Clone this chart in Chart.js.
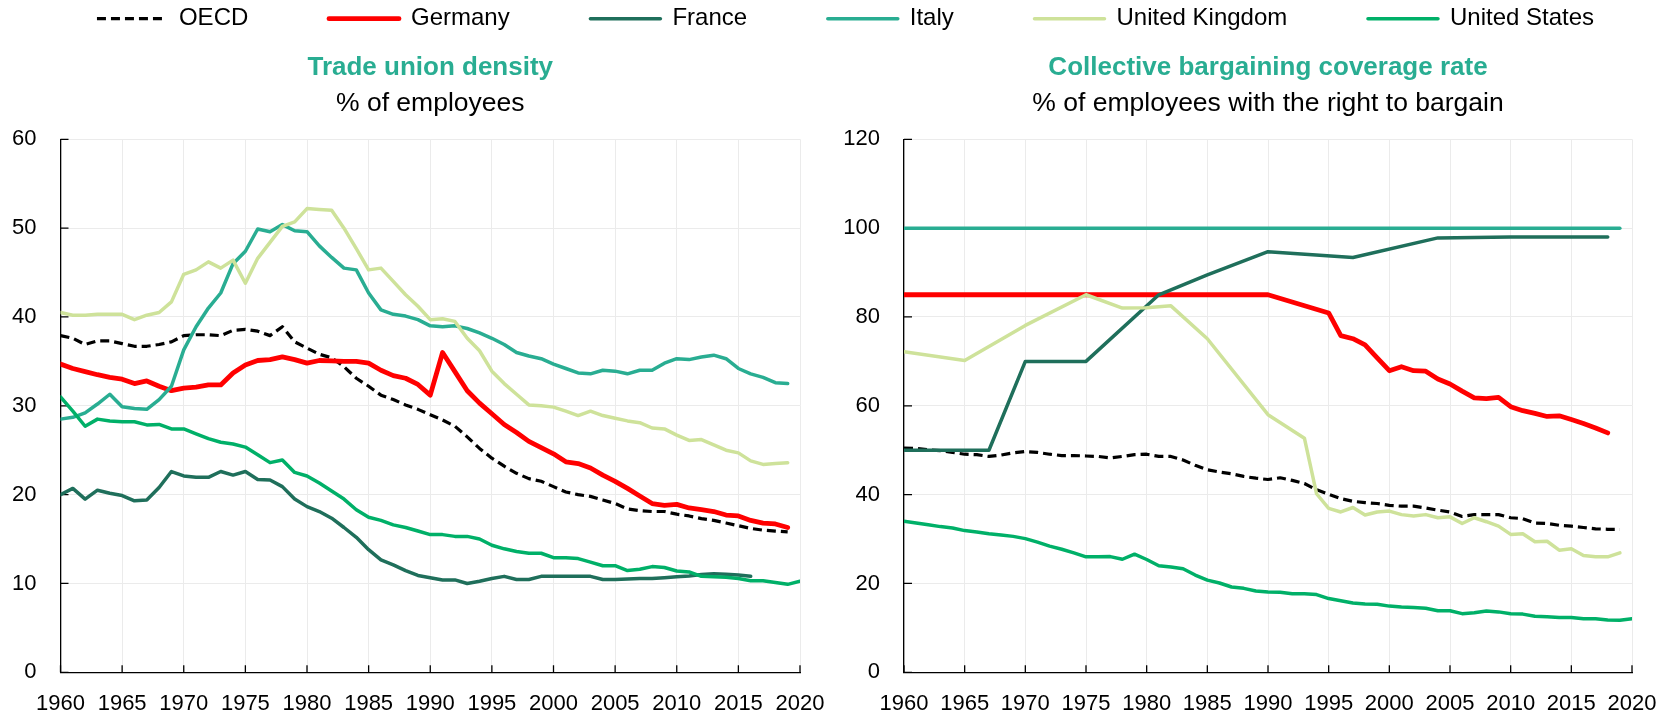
<!DOCTYPE html>
<html>
<head>
<meta charset="utf-8">
<script src="https://cdn.jsdelivr.net/npm/chart.js@4.4.1/dist/chart.umd.min.js"></script>
<style>
  html, body { margin: 0; padding: 0; background: #fff; }
  body { width: 1666px; height: 718px; position: relative; overflow: hidden; }
  canvas { position: absolute; }
  #legend { left: 0; top: -74px; }
  #tud { left: 0; top: 0; }
  #cbc { left: 833px; top: 0; }
</style>
</head>
<body>
<canvas id="legend" width="1691" height="230"></canvas>
<canvas id="tud" width="845" height="718"></canvas>
<canvas id="cbc" width="844" height="718"></canvas>
<script>
const YEARS = [
  1960,1961,1962,1963,1964,1965,1966,1967,1968,1969,
  1970,1971,1972,1973,1974,1975,1976,1977,1978,1979,
  1980,1981,1982,1983,1984,1985,1986,1987,1988,1989,
  1990,1991,1992,1993,1994,1995,1996,1997,1998,1999,
  2000,2001,2002,2003,2004,2005,2006,2007,2008,2009,
  2010,2011,2012,2013,2014,2015,2016,2017,2018,2019,
  2020
];

const SERIES = ['OECD', 'Germany', 'France', 'Italy', 'United Kingdom', 'United States'];

// Trade union density, % of employees (1960-2020)
const TUD_OECD = [
  37.9, 37.6, 36.9, 37.3, 37.3, 37.0, 36.7, 36.7, 36.9, 37.2,
  37.9, 38.0, 38.0, 37.9, 38.5, 38.6, 38.4, 37.9, 38.9, 37.2,
  36.5, 35.8, 35.4, 34.4, 33.1, 32.2, 31.2, 30.7, 30.1, 29.6,
  29.0, 28.4, 27.7, 26.5, 25.2, 24.1, 23.2, 22.4, 21.8, 21.5,
  20.9, 20.3, 20.0, 19.8, 19.4, 19.0, 18.4, 18.2, 18.1, 18.1,
  17.8, 17.6, 17.3, 17.1, 16.8, 16.5, 16.2, 16.0, 15.9, 15.8,
  null
];
const TUD_DEU = [
  34.7, 34.2, 33.85, 33.5, 33.2, 33.0, 32.5, 32.8, 32.2, 31.7,
  32.0, 32.1, 32.35, 32.35, 33.7, 34.6, 35.1, 35.2, 35.5, 35.2,
  34.8, 35.1, 35.05, 35.0, 35.0, 34.8, 34.0, 33.4, 33.1, 32.4,
  31.2, 36.0, 33.85, 31.7, 30.3, 29.1, 27.9, 27.0, 26.0, 25.3,
  24.6, 23.7, 23.5, 23.0, 22.2, 21.5, 20.7, 19.85, 19.0, 18.8,
  18.9, 18.5, 18.3, 18.1, 17.7, 17.6, 17.1, 16.8, 16.7, 16.3,
  null
];
const TUD_FRA = [
  20.0, 20.7, 19.5, 20.5, 20.15, 19.9, 19.3, 19.4, 20.8, 22.6,
  22.1, 21.95, 21.95, 22.6, 22.2, 22.6, 21.7, 21.65, 20.9, 19.5,
  18.65, 18.1, 17.35, 16.3, 15.2, 13.8, 12.65, 12.1, 11.45, 10.9,
  10.65, 10.4, 10.4, 10.0, 10.25, 10.55, 10.8, 10.45, 10.45, 10.8,
  10.8, 10.8, 10.8, 10.8, 10.45, 10.45, 10.5, 10.55, 10.55, 10.65,
  10.75, 10.85, 11.0, 11.1, 11.05, 10.95, 10.8, null, null, null,
  null
];
const TUD_ITA = [
  28.5, 28.7, 29.2, 30.2, 31.3, 29.9, 29.7, 29.6, 30.7, 32.2,
  36.3, 38.9, 41.0, 42.7, 46.0, 47.4, 49.9, 49.6, 50.4, 49.7,
  49.6, 48.0, 46.7, 45.5, 45.3, 42.7, 40.8, 40.3, 40.1, 39.7,
  39.0, 38.9, 39.0, 38.7, 38.2, 37.6, 36.9, 36.0, 35.6, 35.3,
  34.7, 34.2, 33.7, 33.6, 34.0, 33.9, 33.6, 34.0, 34.0, 34.8,
  35.3, 35.2, 35.5, 35.7, 35.3, 34.2, 33.6, 33.2, 32.6, 32.5,
  null
];
const TUD_GBR = [
  40.5, 40.2, 40.2, 40.3, 40.3, 40.3, 39.7, 40.2, 40.5, 41.7,
  44.8, 45.3, 46.2, 45.5, 46.4, 43.8, 46.6, 48.4, 50.2, 50.7,
  52.2, 52.1, 52.0, 50.0, 47.7, 45.3, 45.5, 44.0, 42.5, 41.2,
  39.7, 39.8, 39.5, 37.6, 36.2, 33.9, 32.5, 31.3, 30.1, 30.0,
  29.85, 29.4, 28.9, 29.4, 28.9, 28.6, 28.3, 28.1, 27.5, 27.4,
  26.7, 26.1, 26.2, 25.6, 25.0, 24.7, 23.8, 23.4, 23.5, 23.6,
  null
];
const TUD_USA = [
  31.0, 29.4, 27.7, 28.5, 28.3, 28.2, 28.2, 27.85, 27.9, 27.4,
  27.4, 26.85, 26.3, 25.9, 25.7, 25.35, 24.5, 23.6, 23.9, 22.5,
  22.1, 21.3, 20.4, 19.5, 18.3, 17.45, 17.1, 16.6, 16.3, 15.9,
  15.5, 15.5, 15.3, 15.3, 15.0, 14.3, 13.9, 13.6, 13.4, 13.4,
  12.9, 12.9, 12.8, 12.4, 12.0, 12.0, 11.45, 11.6, 11.9, 11.8,
  11.4, 11.3, 10.8, 10.75, 10.7, 10.55, 10.3, 10.3, 10.1, 9.9,
  10.25
];

// Collective bargaining coverage rate, % of employees with the right to bargain
const CBC_OECD = [
  50.5, 50.4, 50.1, 49.9, 49.5, 49.1, 49.0, 48.6, 48.9, 49.4,
  49.7, 49.5, 49.1, 48.8, 48.8, 48.7, 48.6, 48.25, 48.6, 49.0,
  49.1, 48.6, 48.6, 47.8, 46.6, 45.6, 45.1, 44.7, 44.1, 43.7,
  43.4, 43.8, 43.2, 42.5, 41.1, 40.1, 39.1, 38.5, 38.2, 38.0,
  37.6, 37.4, 37.4, 37.0, 36.5, 36.1, 35.1, 35.5, 35.5, 35.5,
  34.8, 34.6, 33.6, 33.5, 33.1, 32.9, 32.6, 32.3, 32.2, 32.2,
  null
];
const CBC_DEU = [
  85, 85, 85, 85, 85, 85, 85, 85, 85, 85,
  85, 85, 85, 85, 85, 85, 85, 85, 85, 85,
  85, 85, 85, 85, 85, 85, 85, 85, 85, 85,
  85, null, null, null, null, 80.9, 75.8, 75.1, 73.7, 70.8,
  67.9, 68.8, 67.9, 67.8, 66.05, 64.9, 63.3, 61.8, 61.6, 61.9,
  59.8, 58.9, 58.3, 57.6, 57.75, 56.9, 56.0, 55.0, 53.9, null,
  null
];
const CBC_FRA = [
  50, null, null, null, null, null, null, 50, null, null,
  70, null, null, null, null, 70, null, null, null, null,
  null, 85, null, null, null, 89.5, null, null, null, null,
  94.7, null, null, null, null, null, null, 93.4, null, null,
  null, null, null, null, 97.8, null, null, null, null, null,
  98.0, null, null, null, null, null, null, null, 98.0, null,
  null
];
const CBC_ITA = [
  100, 100, 100, 100, 100, 100, 100, 100, 100, 100,
  100, 100, 100, 100, 100, 100, 100, 100, 100, 100,
  100, 100, 100, 100, 100, 100, 100, 100, 100, 100,
  100, 100, 100, 100, 100, 100, 100, 100, 100, 100,
  100, 100, 100, 100, 100, 100, 100, 100, 100, 100,
  100, 100, 100, 100, 100, 100, 100, 100, 100, 100,
  null
];
const CBC_GBR = [
  72.2, null, null, null, null, 70.2, null, null, null, null,
  78.1, null, null, null, null, 85.0, null, null, 82.0, null,
  82.1, null, 82.5, null, null, 75.1, null, null, null, null,
  58.0, null, null, 52.7, 40.2, 36.9, 36.1, 37.1, 35.4, 36.1,
  36.3, 35.5, 35.2, 35.5, 34.8, 35.0, 33.5, 34.8, 33.9, 32.9,
  31.05, 31.2, 29.4, 29.5, 27.5, 27.8, 26.3, 26.0, 26.0, 26.9,
  null
];
const CBC_USA = [
  34.0, 33.6, 33.2, 32.8, 32.5, 31.9, 31.6, 31.2, 30.9, 30.6,
  30.1, 29.3, 28.4, 27.7, 26.9, 26.0, 26.0, 26.05, 25.45, 26.6,
  25.4, 24.0, 23.7, 23.3, 21.9, 20.75, 20.1, 19.2, 18.9, 18.3,
  18.1, 18.0, 17.7, 17.7, 17.5, 16.6, 16.1, 15.6, 15.4, 15.3,
  14.9, 14.7, 14.6, 14.4, 13.85, 13.85, 13.2, 13.4, 13.8, 13.6,
  13.2, 13.1, 12.6, 12.5, 12.35, 12.35, 12.05, 12.05, 11.8, 11.7,
  12.05
];

const FONT = "'Liberation Sans', Arial, sans-serif";
const TEAL = '#29AD92';
const GRID = '#EBEBEB';
const COLORS = ['#000000', '#FF0000', '#1F6F5B', '#29AD92', '#CEE29A', '#00B068'];
const WIDTHS = [3.2, 4.8, 3.5, 3.5, 3.5, 3.5];

function makeSets(values) {
  return SERIES.map((name, i) => ({
    label: name,
    data: values[i],
    borderColor: COLORS[i],
    backgroundColor: COLORS[i],
    borderWidth: WIDTHS[i],
    borderDash: i === 0 ? [9, 5] : [],
    borderCapStyle: i === 0 ? 'butt' : 'round',
    borderJoinStyle: 'round',
    pointRadius: 0,
    pointHoverRadius: 0,
    tension: 0,
    spanGaps: true,
    fill: false,
    order: SERIES.length - i
  }));
}

// small tick marks pointing into the plot, as in the original
const innerTicks = {
  id: 'innerTicks',
  beforeDatasetsDraw(chart) {
    const { ctx, chartArea, scales: { x, y } } = chart;
    ctx.save();
    ctx.strokeStyle = '#000';
    ctx.lineWidth = 1.3;
    ctx.beginPath();
    y.ticks.forEach(t => {
      const py = y.getPixelForValue(t.value);
      ctx.moveTo(chartArea.left, py);
      ctx.lineTo(chartArea.left + 8, py);
    });
    x.ticks.forEach(t => {
      const px = x.getPixelForValue(t.value);
      ctx.moveTo(px, chartArea.bottom);
      ctx.lineTo(px, chartArea.bottom - 7);
    });
    ctx.stroke();
    ctx.restore();
  }
};

function plotOptions(title, subtitle, yMax, yStep, yAxisWidth) {
  const tickFont = { family: FONT, size: 22 };
  return {
    responsive: false,
    animation: false,
    events: [],
    layout: { padding: { left: 0, right: 45, top: 0, bottom: 0 } },
    plugins: {
      legend: { display: false },
      tooltip: { enabled: false },
      title: {
        display: true, fullSize: false, text: title, color: TEAL,
        font: { family: FONT, size: 26, weight: 'bold' },
        padding: { top: 52.4, bottom: 0 }
      },
      subtitle: {
        display: true, fullSize: false, text: subtitle, color: '#000',
        font: { family: FONT, size: 26.5 },
        padding: { top: 4.5, bottom: 19.4 }
      }
    },
    scales: {
      x: {
        type: 'linear', min: 1960, max: 2020,
        afterFit: s => { s.height = 45.7; },
        ticks: { stepSize: 5, color: '#000', font: tickFont, padding: 18.5, maxRotation: 0, autoSkip: false, callback: v => String(v) },
        grid: { color: GRID, drawTicks: false },
        border: { color: '#000', width: 1.3 }
      },
      y: {
        min: 0, max: yMax,
        afterFit: s => { s.width = yAxisWidth; },
        ticks: { stepSize: yStep, color: '#000', font: tickFont, padding: 24 },
        grid: { color: GRID, drawTicks: false },
        border: { color: '#000', width: 1.3 }
      }
    }
  };
}

new Chart(document.getElementById('tud'), {
  type: 'line',
  data: { labels: YEARS, datasets: makeSets([TUD_OECD, TUD_DEU, TUD_FRA, TUD_ITA, TUD_GBR, TUD_USA]) },
  options: plotOptions('Trade union density', '% of employees', 60, 10, 60.5),
  plugins: [innerTicks]
});

new Chart(document.getElementById('cbc'), {
  type: 'line',
  data: { labels: YEARS, datasets: makeSets([CBC_OECD, CBC_DEU, CBC_FRA, CBC_ITA, CBC_GBR, CBC_USA]) },
  options: plotOptions('Collective bargaining coverage rate', '% of employees with the right to bargain', 120, 20, 71),
  plugins: [innerTicks]
});

// shared legend across both panels
new Chart(document.getElementById('legend'), {
  type: 'line',
  data: {
    labels: [],
    datasets: SERIES.map((name, i) => ({
      label: name, data: [],
      borderColor: COLORS[i], backgroundColor: COLORS[i], borderWidth: WIDTHS[i],
      borderDash: i === 0 ? [9, 5] : [], borderCapStyle: i === 0 ? 'butt' : 'round'
    }))
  },
  options: {
    responsive: false,
    animation: false,
    events: [],
    scales: { x: { display: false }, y: { display: false } },
    plugins: {
      tooltip: { enabled: false },
      legend: {
        position: 'top',
        labels: {
          usePointStyle: true,
          pointStyle: 'line',
          pointStyleWidth: 70,
          color: '#000',
          font: { family: FONT, size: 24 },
          padding: 80.7,
          generateLabels(chart) {
            const items = Chart.defaults.plugins.legend.labels.generateLabels(chart);
            items.forEach(it => {
              const ds = chart.data.datasets[it.datasetIndex];
              it.lineDash = ds.borderDash;
              it.lineCap = ds.borderCapStyle;
              it.lineWidth = ds.borderWidth;
            });
            return items;
          }
        }
      }
    }
  }
});
</script>
</body>
</html>
